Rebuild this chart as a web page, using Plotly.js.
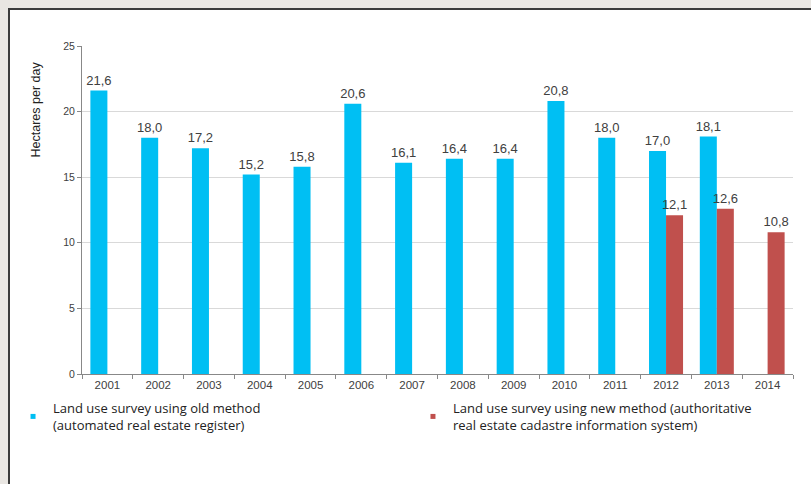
<!DOCTYPE html>
<html>
<head>
<meta charset="utf-8">
<script src="https://cdn.plot.ly/plotly-3.0.1.min.js"></script>
<style>
  html, body { margin: 0; padding: 0; background: #e9e6e2; width: 811px; height: 484px; overflow: hidden; }
  #plot { position: absolute; left: 8px; top: 8px; width: 801px; height: 474px;
          border-top: 2px solid #3a3a3a; border-left: 2px solid #3a3a3a; background: #ffffff; }
</style>
</head>
<body>
<div id="plot"></div>
<script>
const years = ['2001','2002','2003','2004','2005','2006','2007','2008','2009','2010','2011','2012','2013','2014'];
const oldMethod = [21.6, 18.0, 17.2, 15.2, 15.8, 20.6, 16.1, 16.4, 16.4, 20.8, 18.0, 17.0, 18.1, null];
const newMethod = [null, null, null, null, null, null, null, null, null, null, null, 12.1, 12.6, 10.8];
const oldName = 'Land use survey using old method<br>(automated real estate register)';
const newName = 'Land use survey using new method (authoritative<br>real estate cadastre information system)';
const yTitle = 'Hectares per day';

const labelFont = {family: 'Liberation Sans, Arial, sans-serif', size: 13, color: '#404040'};

const traces = [
  {type: 'bar', x: years, y: oldMethod, name: oldName, marker: {color: '#00bff3'},
   texttemplate: '%{y:.1f}', textposition: 'outside', constraintext: 'none', cliponaxis: false,
   textfont: labelFont, showlegend: false},
  {type: 'bar', x: years, y: newMethod, name: newName, marker: {color: '#c0504d'},
   texttemplate: '%{y:.1f}', textposition: 'outside', constraintext: 'none', cliponaxis: false,
   textfont: labelFont, showlegend: false},
  {type: 'scatter', mode: 'markers', x: [null], y: [null], name: oldName, legend: 'legend',
   marker: {symbol: 'square', size: 5, color: '#00bff3'}, showlegend: true},
  {type: 'scatter', mode: 'markers', x: [null], y: [null], name: newName, legend: 'legend2',
   marker: {symbol: 'square', size: 5, color: '#c0504d'}, showlegend: true}
];

const legendFont = {family: 'Open Sans, Lato, sans-serif', size: 13, color: '#222222'};

const layout = {
  width: 801, height: 474,
  margin: {l: 72, r: 18, t: 36, b: 110, autoexpand: false},
  paper_bgcolor: '#ffffff', plot_bgcolor: '#ffffff',
  separators: ', ',
  barmode: 'group', bargap: 0.33, bargroupgap: 0,
  font: {family: 'Liberation Sans, Arial, sans-serif', color: '#404040'},
  xaxis: {type: 'category', categoryorder: 'array', categoryarray: years, automargin: false,
          tickson: 'boundaries', ticks: 'outside', ticklen: 4, tickcolor: '#888888',
          showline: true, linecolor: '#888888', linewidth: 1, showgrid: false,
          tickfont: {family: 'Liberation Sans, Arial, sans-serif', size: 11.5, color: '#404040'}},
  yaxis: {range: [0, 25], dtick: 5, tick0: 0, ticks: 'outside', ticklen: 4, tickcolor: '#888888',
          showline: true, linecolor: '#888888', linewidth: 1, zeroline: false, automargin: false,
          gridcolor: '#d9d9d9', gridwidth: 1,
          tickfont: {family: 'Liberation Sans, Arial, sans-serif', size: 10.5, color: '#404040'}},
  legend: {orientation: 'h', x: -0.097, xanchor: 'left', y: -0.058, yanchor: 'top',
           itemclick: false, font: legendFont, bgcolor: 'rgba(0,0,0,0)'},
  legend2: {orientation: 'h', x: 0.4655, xanchor: 'left', y: -0.058, yanchor: 'top',
           itemclick: false, font: legendFont, bgcolor: 'rgba(0,0,0,0)'},
  annotations: [{text: yTitle, xref: 'paper', yref: 'paper', x: -0.0654, y: 0.805,
                 xanchor: 'center', yanchor: 'middle', textangle: -90, showarrow: false,
                 font: {family: 'Liberation Sans, Arial, sans-serif', size: 12.5, color: '#222222'}}]
};

Plotly.newPlot('plot', traces, layout, {staticPlot: true, displayModeBar: false});
</script>
</body>
</html>
